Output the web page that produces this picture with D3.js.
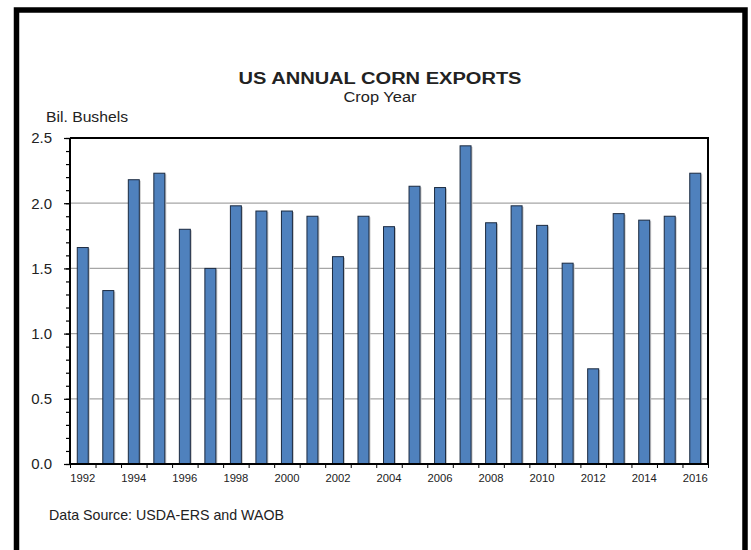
<!DOCTYPE html>
<html>
<head>
<meta charset="utf-8">
<script src="https://cdn.jsdelivr.net/npm/d3@7"></script>
<style>
  html, body { margin: 0; padding: 0; background: #fff; }
  svg { display: block; }
  text { font-family: "Liberation Sans", Arial, sans-serif; fill: #222; }
</style>
</head>
<body>
<div id="chart"></div>
<script>
// Crop years and exports (billion bushels)
const years = d3.range(1992, 2017);
const exportsBil = [1.66, 1.33, 2.18, 2.23, 1.80, 1.50, 1.98, 1.94, 1.94, 1.90,
                    1.59, 1.90, 1.82, 2.13, 2.12, 2.44, 1.85, 1.98, 1.83, 1.54,
                    0.73, 1.92, 1.87, 1.90, 2.23];
const yMajorTicks = [0, 0.5, 1.0, 1.5, 2.0, 2.5];
const yMinorTicks = d3.range(0, 26).map(d => d / 10);
const xLabelYears = years.filter(y => y % 2 === 0);

const W = 751, H = 550;
const plot = {left: 70, right: 708, top: 138, bottom: 464};
const narrow = '"Liberation Sans Narrow", "Liberation Sans", Arial, sans-serif';

const svg = d3.select('#chart').append('svg')
    .attr('width', W)
    .attr('height', H);

svg.append('rect').attr('width', W).attr('height', H).attr('fill', '#fff');

// outer frame
svg.append('rect')
    .attr('x', 16.5).attr('y', 10)
    .attr('width', 728.5).attr('height', 560)
    .attr('fill', 'none')
    .attr('stroke', '#000')
    .attr('stroke-width', 5.5);

const x = d3.scaleBand()
    .domain(years)
    .range([plot.left, plot.right])
    .paddingInner(0.57)
    .paddingOuter(0.285);

// band boundaries for tick marks
const xEdge = d3.scaleLinear()
    .domain([1991.5, 2016.5])
    .range([plot.left, plot.right]);

const y = d3.scaleLinear()
    .domain([0, 2.5])
    .range([plot.bottom, plot.top]);

// gridlines
svg.append('g')
    .selectAll('line')
    .data([0.5, 1.0, 1.5, 2.0])
    .enter().append('line')
    .attr('x1', plot.left).attr('x2', plot.right)
    .attr('y1', d => y(d)).attr('y2', d => y(d))
    .attr('stroke', '#a6a6a6')
    .attr('stroke-width', 1.2);

// bar shadows
svg.append('g')
    .selectAll('rect')
    .data(exportsBil)
    .enter().append('rect')
    .attr('x', (d, i) => x(years[i]) + 1.5)
    .attr('y', d => y(d) + 1)
    .attr('width', x.bandwidth())
    .attr('height', d => y(0) - y(d) - 1)
    .attr('fill', '#c8c8c8');

// bars
svg.append('g')
    .selectAll('rect')
    .data(exportsBil)
    .enter().append('rect')
    .attr('x', (d, i) => x(years[i]))
    .attr('y', d => y(d))
    .attr('width', x.bandwidth())
    .attr('height', d => y(0) - y(d))
    .attr('fill', '#4f81bd')
    .attr('stroke', '#1b2a40')
    .attr('stroke-width', 1);

// plot frame: top and right
svg.append('path')
    .attr('d', `M${plot.left},${plot.top}H${plot.right}V${plot.bottom}`)
    .attr('fill', 'none')
    .attr('stroke', '#000')
    .attr('stroke-width', 2);

// y axis, minor then major
svg.append('g')
    .attr('transform', `translate(${plot.left},0)`)
    .call(d3.axisLeft(y).tickValues(yMinorTicks).tickSize(4).tickFormat(''))
    .call(g => g.select('.domain').remove())
    .call(g => g.selectAll('line').attr('stroke', '#000').attr('stroke-width', 1.2));

svg.append('g')
    .attr('transform', `translate(${plot.left},0)`)
    .call(d3.axisLeft(y).tickValues(yMajorTicks).tickSize(6).tickPadding(12).tickFormat(d3.format('.1f')))
    .call(g => g.select('.domain').remove())
    .call(g => g.selectAll('line').attr('stroke', '#000').attr('stroke-width', 1.2))
    .call(g => g.selectAll('text')
        .attr('font-size', 15)
        .attr('font-family', '"Liberation Sans", Arial, sans-serif')
        .attr('fill', '#333'));

// x axis ticks at band edges
svg.append('g')
    .attr('transform', `translate(0,${plot.bottom})`)
    .call(d3.axisBottom(xEdge).tickValues(d3.range(1991.5, 2017, 1)).tickSize(4).tickFormat(''))
    .call(g => g.select('.domain').remove())
    .call(g => g.selectAll('line').attr('stroke', '#000').attr('stroke-width', 1));

// x labels every other year
svg.append('g')
    .attr('transform', `translate(0,${plot.bottom})`)
    .call(d3.axisBottom(x).tickValues(xLabelYears).tickSize(0).tickPadding(10))
    .call(g => g.select('.domain').remove())
    .call(g => g.selectAll('text')
        .attr('font-size', 11)
        .attr('font-family', narrow)
        .attr('textLength', 25)
        .attr('lengthAdjust', 'spacingAndGlyphs')
        .attr('fill', '#333'));

// axis lines
svg.append('path')
    .attr('d', `M${plot.left},${plot.top}V${plot.bottom}H${plot.right}`)
    .attr('fill', 'none')
    .attr('stroke', '#000')
    .attr('stroke-width', 2);

// titles
svg.append('text')
    .attr('x', 380).attr('y', 84)
    .attr('text-anchor', 'middle')
    .attr('font-size', 16)
    .attr('font-weight', 'bold')
    .attr('fill', '#000')
    .attr('textLength', 283)
    .attr('lengthAdjust', 'spacingAndGlyphs')
    .text('US ANNUAL CORN EXPORTS');

svg.append('text')
    .attr('x', 380).attr('y', 102)
    .attr('text-anchor', 'middle')
    .attr('font-size', 14)
    .attr('font-family', narrow)
    .attr('fill', '#222')
    .attr('textLength', 73)
    .attr('lengthAdjust', 'spacingAndGlyphs')
    .text('Crop Year');

svg.append('text')
    .attr('x', 46).attr('y', 122)
    .attr('font-size', 15)
    .attr('font-family', narrow)
    .attr('fill', '#222')
    .attr('textLength', 82)
    .attr('lengthAdjust', 'spacingAndGlyphs')
    .text('Bil. Bushels');

svg.append('text')
    .attr('x', 49).attr('y', 520)
    .attr('font-size', 14.5)
    .attr('font-family', narrow)
    .attr('fill', '#333')
    .attr('textLength', 235)
    .attr('lengthAdjust', 'spacingAndGlyphs')
    .text('Data Source:  USDA-ERS and WAOB');
</script>
</body>
</html>
